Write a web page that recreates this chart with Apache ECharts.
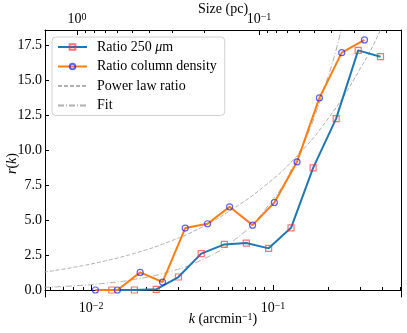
<!DOCTYPE html>
<html>
<head>
<meta charset="utf-8">
<script src="https://cdn.jsdelivr.net/npm/echarts@6/dist/echarts.min.js"></script>
<style>
  html, body { margin: 0; padding: 0; background: #fff; }
  #chart { width: 407px; height: 333px; }
</style>
</head>
<body>
<div id="chart"></div>
<script>
// --- data ---
const k250 = [0.0130, 0.0173, 0.0228, 0.0302, 0.0403, 0.0540, 0.0713, 0.0946, 0.1256, 0.1661, 0.2222, 0.2937, 0.3896];
const ratio250 = [0.0, 0.0, 0.05, 0.93, 2.6, 3.26, 3.36, 2.98, 4.45, 8.74, 12.26, 17.14, 16.69];
const kColumn = [0.01056, 0.01396, 0.01861, 0.02469, 0.03291, 0.04365, 0.0577, 0.07719, 0.1017, 0.1355, 0.1798, 0.2385, 0.318];
const ratioColumn = [0.0, 0.0, 1.26, 0.57, 4.43, 4.74, 5.95, 4.64, 6.26, 9.17, 13.74, 16.98, 17.89];
const kCurve = [0.0055, 0.008, 0.012, 0.018, 0.027, 0.04, 0.06, 0.09, 0.13, 0.2, 0.3, 0.4, 0.5];
const powerLaw = [1.28, 1.62, 2.09, 2.69, 3.47, 4.45, 5.8, 7.45, 9.35, 12.23, 15.79, 18.9, 21.8];
const kFit = [0.0055, 0.008, 0.012, 0.018, 0.027, 0.04, 0.06, 0.09, 0.13, 0.2, 0.25];
const fitValues = [0.187, 0.295, 0.485, 0.797, 1.31, 2.12, 3.48, 5.72, 8.98, 15.2, 20.0];

const kMajorTicks = [0.01, 0.1];
const kMinorTicks = [0.006, 0.007, 0.008, 0.009, 0.02, 0.03, 0.04, 0.05, 0.06, 0.07, 0.08, 0.09, 0.2, 0.3, 0.4, 0.5];
const sizeMajorTicks = [0.1, 1];
const sizeMinorTicks = [0.02, 0.03, 0.04, 0.05, 0.06, 0.07, 0.08, 0.09, 0.2, 0.3, 0.4, 0.5, 0.6, 0.7, 0.8, 0.9];
const rTicks = [0, 2.5, 5, 7.5, 10, 12.5, 15, 17.5];

// size (pc) = SIZE_K / k
const SIZE_K = 0.00837;
const K_MIN = 0.00558, K_MAX = 0.505;

function pairs(xs, ys) {
  return xs.map((x, i) => [x, ys[i]]);
}

const serif = "Liberation Serif";
const supRich = {
  sup: { fontSize: 10, verticalAlign: "top", lineHeight: 10, fontFamily: serif, color: "#000" },
  i: { fontStyle: "italic", fontFamily: serif, fontSize: 14, color: "#000" },
};
function powLabel(v) {
  const e = Math.round(Math.log10(v));
  return "10{sup|" + String(e).replace("-", "\u2212") + "}";
}

const chart = echarts.init(document.getElementById("chart"));
const option = {
  animation: false,
  grid: { left: 45, right: 6, top: 30, bottom: 36, containLabel: false, outerBoundsMode: "none" },
  legend: {
    orient: "vertical",
    left: 52,
    top: 37,
    itemWidth: 29,
    itemHeight: 7,
    itemGap: 5.5,
    padding: [3, 8, 3, 5],
    backgroundColor: "rgba(255,255,255,0.8)",
    borderColor: "#d0d0d0",
    borderWidth: 1,
    borderRadius: 4,
    textStyle: {
      fontFamily: serif,
      fontSize: 14,
      color: "#000",
      padding: [0, 0, 0, 5],
      rich: { i: { fontStyle: "italic", fontFamily: serif, fontSize: 14 } },
    },
    formatter: function (name) {
      return name === "Ratio 250 \u03bcm" ? "Ratio 250 {i|\u03bc}m" : name;
    },
    data: ["Ratio 250 \u03bcm", "Ratio column density", "Power law ratio", "Fit"],
  },
  xAxis: [
    {
      type: "log",
      position: "bottom",
      min: K_MIN,
      max: K_MAX,
      axisLine: { lineStyle: { color: "#000", width: 1 } },
      axisTick: { inside: true, length: 5, customValues: kMajorTicks, lineStyle: { color: "#000" } },
      axisLabel: {
        customValues: kMajorTicks,
        formatter: powLabel,
        fontFamily: serif,
        fontSize: 14,
        color: "#000",
        margin: 4,
        rich: supRich,
      },
      splitLine: { show: false },
      minorTick: { show: false },
      name: "{i|k} (arcmin{sup|\u22121})",
      nameLocation: "middle",
      nameGap: 15,
      nameMoveOverlap: false,
      nameTextStyle: { fontFamily: serif, fontSize: 14, color: "#000", rich: supRich },
    },
    {
      type: "log",
      position: "bottom",
      min: K_MIN,
      max: K_MAX,
      axisLine: { show: false },
      axisTick: { inside: true, length: 3, customValues: kMinorTicks, lineStyle: { color: "#000" } },
      axisLabel: { show: false },
      splitLine: { show: false },
    },
    {
      type: "log",
      position: "top",
      inverse: true,
      min: SIZE_K / K_MAX,
      max: SIZE_K / K_MIN,
      axisLine: { lineStyle: { color: "#000", width: 1 } },
      axisTick: { inside: true, length: 5, customValues: sizeMajorTicks, lineStyle: { color: "#000" } },
      axisLabel: {
        customValues: sizeMajorTicks,
        formatter: powLabel,
        fontFamily: serif,
        fontSize: 14,
        color: "#000",
        margin: 4,
        rich: supRich,
      },
      splitLine: { show: false },
      name: "Size (pc)",
      nameLocation: "middle",
      nameGap: 14,
      nameMoveOverlap: false,
      nameTextStyle: { fontFamily: serif, fontSize: 14, color: "#000" },
    },
    {
      type: "log",
      position: "top",
      inverse: true,
      min: SIZE_K / K_MAX,
      max: SIZE_K / K_MIN,
      axisLine: { show: false },
      axisTick: { inside: true, length: 3, customValues: sizeMinorTicks, lineStyle: { color: "#000" } },
      axisLabel: { show: false },
      splitLine: { show: false },
    },
  ],
  yAxis: [
    {
      type: "value",
      min: -0.5,
      max: 18.6,
      axisLine: { show: true, lineStyle: { color: "#000", width: 1 } },
      axisTick: { show: true, inside: true, length: 4, customValues: rTicks, lineStyle: { color: "#000" } },
      axisLabel: {
        customValues: rTicks,
        formatter: (v) => v.toFixed(1),
        fontFamily: serif,
        fontSize: 14,
        color: "#000",
        margin: 3,
      },
      splitLine: { show: false },
      name: "{i|r}({i|k})",
      nameLocation: "middle",
      nameGap: 26,
      nameMoveOverlap: false,
      nameTextStyle: { fontFamily: serif, fontSize: 14, color: "#000", rich: supRich },
    },
    {
      type: "value",
      position: "right",
      min: -0.5,
      max: 18.6,
      axisLine: { show: true, lineStyle: { color: "#000", width: 1 } },
      axisTick: { show: false },
      axisLabel: { show: false },
      splitLine: { show: false },
    },
  ],
  series: [
    {
      name: "Ratio 250 \u03bcm",
      type: "line",
      data: pairs(k250, ratio250),
      symbol: "rect",
      symbolSize: 6,
      lineStyle: { color: "#1f77b4", width: 2 },
      itemStyle: { color: "rgba(0,0,0,0)", borderColor: "rgba(255,40,40,0.65)", borderWidth: 1.2 },
      z: 3,
    },
    {
      name: "Ratio column density",
      type: "line",
      data: pairs(kColumn, ratioColumn),
      symbol: "circle",
      symbolSize: 6,
      lineStyle: { color: "#ff7f0e", width: 2 },
      itemStyle: { color: "rgba(0,0,0,0)", borderColor: "rgba(30,30,255,0.7)", borderWidth: 1.2 },
      z: 4,
    },
    {
      name: "Power law ratio",
      type: "line",
      data: pairs(kCurve, powerLaw),
      smooth: true,
      symbol: "circle",
      showSymbol: false,
      lineStyle: { color: "#b0b0b0", width: 1, type: [4, 2] },
      itemStyle: { color: "rgba(0,0,0,0)", borderWidth: 0 },
      z: 2,
    },
    {
      name: "Fit",
      type: "line",
      data: pairs(kFit, fitValues),
      smooth: true,
      symbol: "circle",
      showSymbol: false,
      lineStyle: { color: "#b0b0b0", width: 1, type: [6, 2, 1, 2] },
      itemStyle: { color: "rgba(0,0,0,0)", borderWidth: 0 },
      z: 2,
    },
  ],
};
chart.setOption(option);
</script>
</body>
</html>
